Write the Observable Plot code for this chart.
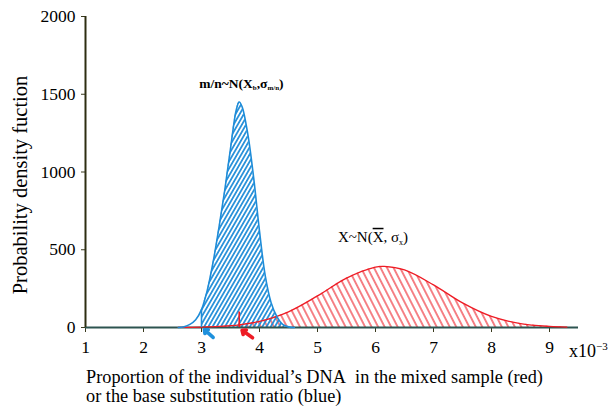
<!DOCTYPE html>
<html><head><meta charset="utf-8">
<script src="https://cdn.jsdelivr.net/npm/d3@7"></script>
<script src="https://cdn.jsdelivr.net/npm/@observablehq/plot@0.6"></script>
<style>body{margin:0;background:#fff} svg{display:block}</style>
</head><body><div id="chart"></div><script>
// ---- data ----
const xTicks = [1, 2, 3, 4, 5, 6, 7, 8, 9];
const yTicks = [0, 500, 1000, 1500, 2000];
// blue: base substitution ratio m/n
const blueX = [2.6, 2.7, 2.8, 2.9, 3.0, 3.1, 3.2, 3.3, 3.4, 3.5, 3.6, 3.65, 3.7, 3.8, 3.9, 4.0, 4.1, 4.2, 4.3, 4.4, 4.5, 4.6];
const blueY = [0, 5, 20, 50, 115, 240, 420, 640, 880, 1150, 1400, 1450, 1420, 1240, 960, 620, 330, 160, 70, 20, 4, 0];
// red: proportion of individual's DNA X
const redX = [2.6, 3.0, 3.3, 3.65, 4.0, 4.5, 5.0, 5.5, 6.0, 6.15, 6.5, 7.0, 7.5, 8.0, 8.5, 9.0, 9.3];
const redY = [1, 3, 7, 17, 39, 101, 203, 318, 389, 393, 370, 274, 158, 71, 25, 7, 3];
// hatched regions start at these cut points
const blueCut = 3.0;
const redCut = 3.65;
const markerTop = [115, 100]; // heights of the blue / red vertical markers
// small arrows under the axis (data units)
const arrowX1 = [3.2, 3.88], arrowY1 = [-64, -66], arrowX2 = [3.05, 3.70], arrowY2 = [-14, -18];
const arrowColor = ["#1e90dc", "#ee1c25"];
// labels (data units of their left end / baseline)
const annX = [2.97, 5.36];
const annY = [1540, 548];

const blue = blueX.map((x, i) => ({x, y: blueY[i]}));
const red = redX.map((x, i) => ({x, y: redY[i]}));
const blueH = blue.filter(d => d.x >= blueCut);
const redH = red.filter(d => d.x >= redCut);
const arrows = arrowX1.map((x1, i) => ({x1, y1: arrowY1[i], x2: arrowX2[i], y2: arrowY2[i], c: arrowColor[i]}));

const BLUE = "#1e8cd8", RED = "#ee1c25";
const font = "Liberation Serif";

const plot = Plot.plot({
  width: 609, height: 407,
  marginLeft: 85, marginRight: 31, marginTop: 16, marginBottom: 80,
  style: {background: "#fff", overflow: "visible"},
  x: {domain: [1, 9.5]},
  y: {domain: [0, 2000]},
  marks: [
    Plot.axisX({ticks: xTicks, tickSize: 5, stroke: "#3a3a1e", label: null, tickFormat: () => ""}),
    Plot.axisY({ticks: yTicks, tickSize: 4, stroke: "#3a3a1e", label: null, tickFormat: () => ""}),
    Plot.text(xTicks, {x: d => d, frameAnchor: "bottom", dy: 25, text: d => String(d),
      fontFamily: font, fontSize: 17.5, fill: "#000"}),
    Plot.text(yTicks, {y: d => d, frameAnchor: "left", dx: -10, textAnchor: "end", text: d => String(d),
      fontFamily: font, fontSize: 17.5, fill: "#000"}),
    Plot.areaY(redH, {x: "x", y: "y", fill: "url(#redHatch)", curve: "catmull-rom"}),
    Plot.areaY(blueH, {x: "x", y: "y", fill: "url(#blueHatch)", curve: "catmull-rom"}),
    Plot.ruleY([0], {stroke: "#2d5450", strokeWidth: 2}),
    Plot.ruleX([1], {y1: 0, y2: 2000, stroke: "#2e2e12", strokeWidth: 2}),
    Plot.line(red, {x: "x", y: "y", stroke: RED, strokeWidth: 1.3, curve: "catmull-rom"}),
    Plot.line(blue, {x: "x", y: "y", stroke: BLUE, strokeWidth: 1.6, curve: "catmull-rom"}),
    Plot.ruleX([blueCut], {y1: 0, y2: markerTop[0], stroke: BLUE, strokeWidth: 1.6}),
    Plot.ruleX([redCut], {y1: 0, y2: markerTop[1], stroke: RED, strokeWidth: 1.6}),
    Plot.arrow(arrows, {x1: "x1", y1: "y1", x2: "x2", y2: "y2", stroke: "c", strokeWidth: 3.6, headLength: 8, headAngle: 80})
  ]
});

const svg = d3.select(plot);
svg.attr("font-family", font);

// hatch patterns
const defs = svg.insert("defs", ":first-child");
function hatch(id, w, angle, color, sw) {
  const p = defs.append("pattern").attr("id", id).attr("patternUnits", "userSpaceOnUse")
    .attr("width", w).attr("height", w).attr("patternTransform", `rotate(${angle})`);
  p.append("line").attr("x1", w / 2).attr("x2", w / 2).attr("y1", -1).attr("y2", w + 1)
    .attr("stroke", color).attr("stroke-width", sw);
}
hatch("blueHatch", 3.6, 30, BLUE, 1.7);
hatch("redHatch", 5.8, -27, RED, 1.1);

const sx = plot.scale("x"), sy = plot.scale("y");
function txt(x, y, size) {
  return svg.append("text").attr("x", x).attr("y", y).attr("text-anchor", "start")
    .attr("font-family", font).attr("font-size", size).attr("fill", "#000");
}
// annotations
const t1 = txt(sx.apply(annX[0]), sy.apply(annY[0]), 13.5).attr("font-weight", "bold");
t1.append("tspan").text("m/n~N(X");
t1.append("tspan").attr("font-size", 7).attr("dy", 2.5).text("b");
t1.append("tspan").attr("dy", -2.5).text(",σ");
t1.append("tspan").attr("font-size", 7).attr("dy", 2.5).text("m/n");
t1.append("tspan").attr("dy", -2.5).text(")");

const t2 = txt(sx.apply(annX[1]), sy.apply(annY[1]), 15);
t2.append("tspan").text("X~N(");
t2.append("tspan").attr("text-decoration", "overline").text("X");
t2.append("tspan").text(", σ");
t2.append("tspan").attr("font-size", 8).attr("dy", 3).text("x");
t2.append("tspan").attr("dy", -3).text(")");

// x10^-3 (cut at the right edge, as in the reference)
const t3 = txt(569, 357, 18);
t3.append("tspan").text("x10");
t3.append("tspan").attr("font-size", 11).attr("dy", -7).text("−3");

// axis titles
svg.append("text").attr("transform", "translate(27,185) rotate(-90)").attr("text-anchor", "middle")
  .attr("font-family", font).attr("font-size", 20.5).attr("fill", "#000")
  .text("Probability density fuction");
txt(86, 383, 18.3).text("Proportion of the individual\u2019s DNA\u00a0 in the mixed sample (red)");
txt(86, 402, 18.3).text("or the base substitution ratio (blue)");

document.getElementById("chart").appendChild(plot);
</script></body></html>
